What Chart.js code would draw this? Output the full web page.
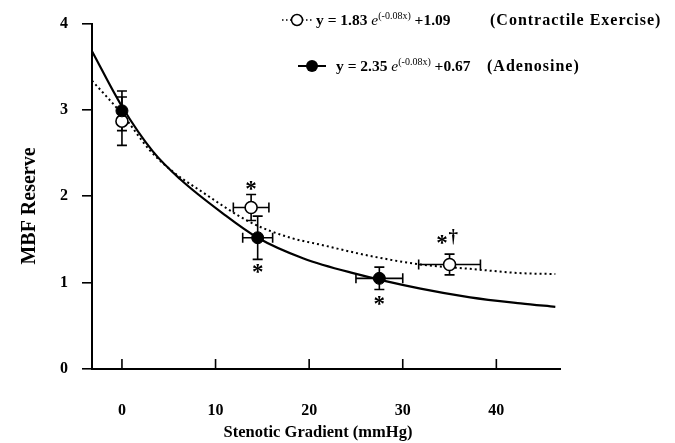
<!DOCTYPE html>
<html>
<head>
<meta charset="utf-8">
<script src="https://cdn.jsdelivr.net/npm/chart.js@4"></script>
<style>
  html, body { margin: 0; padding: 0; background: #fff; }
  #wrap { position: relative; width: 675px; height: 443px; }
  .leg { position: absolute; font: bold 15.5px "Liberation Serif", serif; color: #000; white-space: nowrap; line-height: 16px; }
  .leg.paren { font-size: 16px; letter-spacing: 1px; }
  .leg i { font-weight: normal; }
  .leg sup { font-size: 10px; font-weight: normal; vertical-align: 0; position: relative; top: -6px; }
  svg.mk { position: absolute; }
</style>
</head>
<body>
<div id="wrap">
  <canvas id="c" width="675" height="443"></canvas>
  <svg class="mk" style="left:280px;top:10px" width="36" height="20">
    <line x1="2" y1="10" x2="34" y2="10" stroke="#000" stroke-width="1.5" stroke-dasharray="1.5 2.5"/>
    <circle cx="17" cy="10" r="5.5" fill="#fff" stroke="#000" stroke-width="1.5"/>
  </svg>
  <div class="leg" style="left:316px;top:12px">y = 1.83 <i>e</i><sup>(-0.08x)</sup> +1.09</div>
  <div class="leg paren" style="left:490px;top:12px">(Contractile Exercise)</div>
  <svg class="mk" style="left:296px;top:56px" width="32" height="20">
    <line x1="2" y1="10" x2="30" y2="10" stroke="#000" stroke-width="2"/>
    <circle cx="16" cy="10" r="6" fill="#000"/>
  </svg>
  <div class="leg" style="left:336px;top:58px">y = 2.35 <i>e</i><sup>(-0.08x)</sup> +0.67</div>
  <div class="leg paren" style="left:487px;top:58px">(Adenosine)</div>
</div>
<script>
const xTicks = [0, 10, 20, 30, 40];
const yTicks = [0, 1, 2, 3, 4];

// measured points (mean +/- error)
const exerciseX = [0, 13.8, 35.0];
const exerciseY = [2.87, 1.87, 1.21];
const exerciseXErr = [0, 1.9, 3.3];
const exerciseYErr = [0.28, 0.15, 0.12];

const adenosineX = [0, 14.5, 27.5];
const adenosineY = [2.99, 1.52, 1.05];
const adenosineXErr = [0, 1.6, 2.5];
const adenosineYErr = [0.23, 0.25, 0.13];

// fitted curves
const exerciseFitX = [-3.2, 0.1, 3.0, 5.5, 8.3, 13.7, 18.0, 21.2, 26.5, 31.9, 37.2, 42.6, 46.3];
const exerciseFitY = [3.34, 2.94, 2.53, 2.28, 2.07, 1.70, 1.52, 1.44, 1.31, 1.21, 1.16, 1.11, 1.10];

const adenosineFitX = [-3.2, 0, 3.3, 6.2, 10.8, 14.5, 19.4, 24.7, 31.9, 37.2, 42.6, 46.3];
const adenosineFitY = [3.68, 3.04, 2.52, 2.20, 1.80, 1.52, 1.28, 1.11, 0.93, 0.83, 0.76, 0.72];

// significance marks
const markText = ["*", "*", "*", "*", "\u2020"];
const markX = [13.8, 14.5, 27.5, 34.2, 35.4];
const markY = [2.13, 1.16, 0.79, 1.50, 1.53];

const pts = (xs, ys) => xs.map((x, i) => ({ x, y: ys[i] }));
const serif = '"Liberation Serif", "Times New Roman", serif';

const errorBars = {
  id: "errorBars",
  beforeDatasetsDraw(chart) {
    const { ctx, scales: { x, y } } = chart;
    const sets = [
      [exerciseX, exerciseY, exerciseXErr, exerciseYErr],
      [adenosineX, adenosineY, adenosineXErr, adenosineYErr]
    ];
    ctx.save();
    ctx.strokeStyle = "#000";
    ctx.lineWidth = 1.6;
    for (const [xs, ys, xe, ye] of sets) {
      xs.forEach((xv, i) => {
        const px = x.getPixelForValue(xv), py = y.getPixelForValue(ys[i]);
        ctx.beginPath();
        if (ye[i]) {
          const t = y.getPixelForValue(ys[i] + ye[i]), b = y.getPixelForValue(ys[i] - ye[i]);
          ctx.moveTo(px, t); ctx.lineTo(px, b);
          ctx.moveTo(px - 5, t); ctx.lineTo(px + 5, t);
          ctx.moveTo(px - 5, b); ctx.lineTo(px + 5, b);
        }
        if (xe[i]) {
          const l = x.getPixelForValue(xv - xe[i]), r = x.getPixelForValue(xv + xe[i]);
          ctx.moveTo(l, py); ctx.lineTo(r, py);
          ctx.moveTo(l, py - 5); ctx.lineTo(l, py + 5);
          ctx.moveTo(r, py - 5); ctx.lineTo(r, py + 5);
        }
        ctx.stroke();
      });
    }
    ctx.restore();
  }
};

const extras = {
  id: "extras",
  afterDraw(chart) {
    const { ctx, chartArea, scales: { x, y } } = chart;
    ctx.save();
    ctx.fillStyle = "#000";
    ctx.strokeStyle = "#000";

    // x tick marks point up into the plot
    ctx.lineWidth = 1.6;
    ctx.beginPath();
    for (const v of xTicks) {
      const px = x.getPixelForValue(v);
      ctx.moveTo(px, chartArea.bottom);
      ctx.lineTo(px, chartArea.bottom - 10);
    }
    ctx.stroke();

    // asterisks and dagger
    markText.forEach((t, i) => {
      ctx.font = (t === "*" ? "bold 23px " : "bold 19px ") + serif;
      const m = ctx.measureText(t);
      const px = x.getPixelForValue(markX[i]), py = y.getPixelForValue(markY[i]);
      ctx.textAlign = "center";
      ctx.textBaseline = "alphabetic";
      ctx.fillText(t, px, py + (m.actualBoundingBoxAscent - m.actualBoundingBoxDescent) / 2);
    });

    // axis titles
    ctx.textAlign = "center";
    ctx.textBaseline = "middle";
    ctx.font = "bold 16.5px " + serif;
    ctx.fillText("Stenotic Gradient (mmHg)", 318, 433);
    ctx.font = "bold 20px " + serif;
    ctx.translate(30, 206);
    ctx.rotate(-Math.PI / 2);
    ctx.fillText("MBF Reserve", 0, 0);
    ctx.restore();
  }
};

const tickFont = { family: serif, size: 16, weight: "bold" };

new Chart(document.getElementById("c"), {
  type: "scatter",
  data: {
    datasets: [
      {
        label: "Adenosine",
        data: pts(adenosineX, adenosineY),
        pointRadius: 6,
        pointBackgroundColor: "#000",
        pointBorderColor: "#000",
        pointBorderWidth: 1
      },
      {
        label: "Contractile Exercise",
        data: pts(exerciseX, exerciseY),
        pointRadius: 6,
        pointBackgroundColor: "#fff",
        pointBorderColor: "#000",
        pointBorderWidth: 1.6
      },
      {
        label: "Adenosine fit",
        data: pts(adenosineFitX, adenosineFitY),
        showLine: true,
        borderColor: "#000",
        borderWidth: 2.2,
        pointRadius: 0,
        cubicInterpolationMode: "monotone"
      },
      {
        label: "Exercise fit",
        data: pts(exerciseFitX, exerciseFitY),
        showLine: true,
        borderColor: "#000",
        borderWidth: 2,
        borderDash: [2, 3],
        pointRadius: 0,
        cubicInterpolationMode: "monotone"
      }
    ]
  },
  options: {
    responsive: false,
    animation: false,
    layout: { padding: { top: 20, right: 115, left: 0, bottom: 0 } },
    plugins: { legend: { display: false }, tooltip: { enabled: false } },
    scales: {
      x: {
        type: "linear",
        min: -3.2,
        max: 46.8,
        afterBuildTicks: s => { s.ticks = xTicks.map(v => ({ value: v })); },
        afterFit: s => { s.height = 74; },
        grid: { display: false, drawTicks: false },
        border: { display: true, color: "#000", width: 2 },
        ticks: { color: "#000", font: tickFont, padding: 32, maxRotation: 0, autoSkip: false }
      },
      y: {
        min: 0,
        max: 4,
        afterBuildTicks: s => { s.ticks = yTicks.map(v => ({ value: v })); },
        afterFit: s => { s.width = 92; },
        grid: { drawOnChartArea: false, drawTicks: true, tickLength: 10, color: "#000", lineWidth: 1.6 },
        border: { display: true, color: "#000", width: 2 },
        ticks: { color: "#000", font: tickFont, padding: 14 }
      }
    }
  },
  plugins: [errorBars, extras]
});
</script>
</body>
</html>
